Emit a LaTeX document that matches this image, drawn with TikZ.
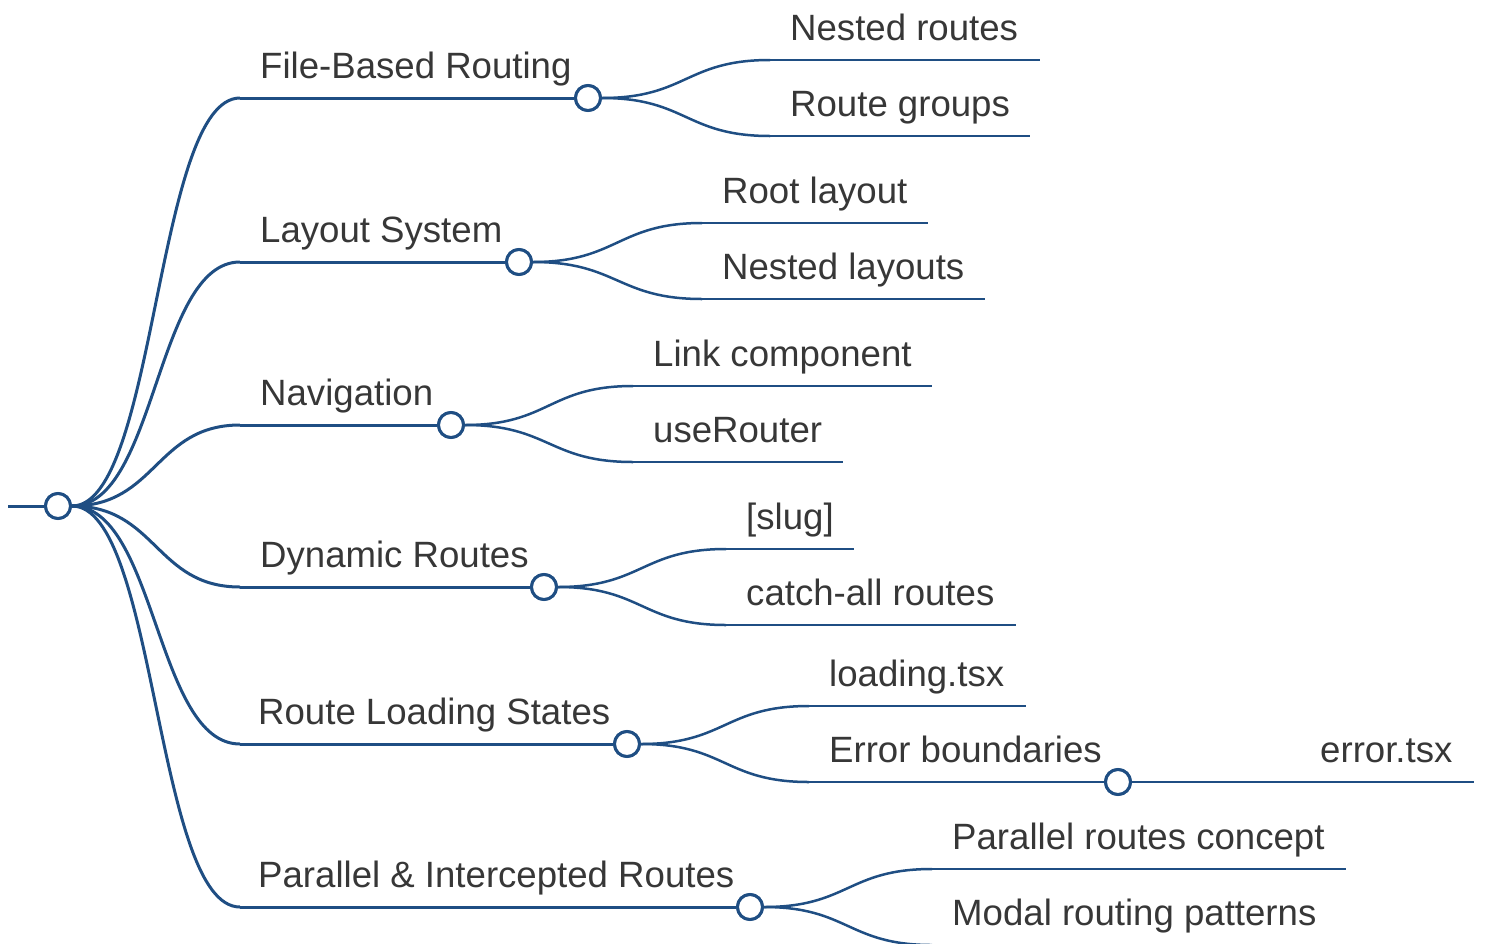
\documentclass[tikz,border=0pt]{standalone}
\usepackage{fontspec}
\setmainfont{Liberation Sans}
\definecolor{edge}{RGB}{31,78,131}
\definecolor{label}{RGB}{55,55,55}
\tikzset{
  x=1pt, y=-1pt,
  link/.style={draw=edge, line width=3pt},
  sublink/.style={draw=edge, line width=2.5pt},
  dot/.style={circle, draw=edge, fill=white, line width=3pt, minimum size=25pt, inner sep=0pt},
  txt/.style={anchor=base west, text=label, font=\fontsize{36.6}{40}\selectfont, inner sep=0pt},
  curve/.style={to path={.. controls +(84.5,0) and +(-84.5,0) .. (\tikztotarget)}}
}
\begin{document}
\begin{tikzpicture}
\useasboundingbox (0,0) rectangle (1485,943);
\clip (0,0) rectangle (1485,943);

% root
\coordinate (rin) at (8,506);
\node[dot] (root) at (58,506) {};
\draw[link] (rin) -- (root.west);

% first-level stems
\coordinate (s1) at (240,98);
\coordinate (s2) at (240,262);
\coordinate (s3) at (240,425);
\coordinate (s4) at (240,587);
\coordinate (s5) at (240,744);
\coordinate (s6) at (240,907);

\node[dot] (c1) at (588,98) {};
\node[dot] (c2) at (519,262) {};
\node[dot] (c3) at (451,425) {};
\node[dot] (c4) at (544,587) {};
\node[dot] (c5) at (627,744) {};
\node[dot] (c6) at (750,907) {};
\node[dot] (c7) at (1118,782) {};

\node[txt] (t1) at (260,78) {File-Based Routing};
\node[txt] (t2) at (260,242) {Layout System};
\node[txt] (t3) at (260,405) {Navigation};
\node[txt] (t4) at (260,567) {Dynamic Routes};
\node[txt] (t5) at (258,724) {Route Loading States};
\node[txt] (t6) at (258,887) {Parallel \& Intercepted Routes};

% second-level leaf lines
\coordinate (a1) at (770,60);   \coordinate (a1e) at (1040,60);
\coordinate (b1) at (770,136);  \coordinate (b1e) at (1030,136);
\coordinate (a2) at (702,223);  \coordinate (a2e) at (928,223);
\coordinate (b2) at (702,299);  \coordinate (b2e) at (985,299);
\coordinate (a3) at (633,386);  \coordinate (a3e) at (932,386);
\coordinate (b3) at (633,462);  \coordinate (b3e) at (843,462);
\coordinate (a4) at (726,549);  \coordinate (a4e) at (854,549);
\coordinate (b4) at (726,625);  \coordinate (b4e) at (1016,625);
\coordinate (a5) at (809,706);  \coordinate (a5e) at (1026,706);
\coordinate (b5) at (809,782);
\coordinate (a6) at (932,869);  \coordinate (a6e) at (1346,869);
\coordinate (b6) at (932,945);  \coordinate (b6e) at (1330,945);
\coordinate (e7) at (1298,782); \coordinate (e7e) at (1474,782);

\node[txt] (u1) at (790,40) {Nested routes};
\node[txt] (v1) at (790,116) {Route groups};
\node[txt] (u2) at (722,203) {Root layout};
\node[txt] (v2) at (722,279) {Nested layouts};
\node[txt] (u3) at (653,366) {Link component};
\node[txt] (v3) at (653,442) {useRouter};
\node[txt] (u4) at (746,529) {[slug]};
\node[txt] (v4) at (746,605) {catch-all routes};
\node[txt] (u5) at (829,686) {loading.tsx};
\node[txt] (v5) at (829,762) {Error boundaries};
\node[txt] (w7) at (1320,762) {error.tsx};
\node[txt] (u6) at (952,849) {Parallel routes concept};
\node[txt] (v6) at (952,925) {Modal routing patterns};

% root to first level
\foreach \s in {s1,s2,s3,s4,s5,s6}
  \draw[link] (root.east) to[curve] (\s);
\foreach \s/\c in {s1/c1,s2/c2,s3/c3,s4/c4,s5/c5,s6/c6}
  \draw[link] (\s) -- (\c.west);

% first level to leaves
\foreach \c/\a/\b in {c1/a1/b1,c2/a2/b2,c3/a3/b3,c4/a4/b4,c5/a5/b5,c6/a6/b6}{
  \draw[sublink] (\c.east) to[curve] (\a);
  \draw[sublink] (\c.east) to[curve] (\b);
}
\foreach \a in {a1,b1,a2,b2,a3,b3,a4,b4,a5,a6,b6}
  \draw[sublink] (\a) -- (\a e);
\draw[sublink] (b5) -- (c7.west);
\draw[sublink] (c7.east) -- (e7);
\draw[sublink] (e7) -- (e7e);

% circles on top of their strokes
\foreach \c in {root,c1,c2,c3,c4,c5,c6,c7}
  \node[dot] at (\c) {};
\end{tikzpicture}
\end{document}
